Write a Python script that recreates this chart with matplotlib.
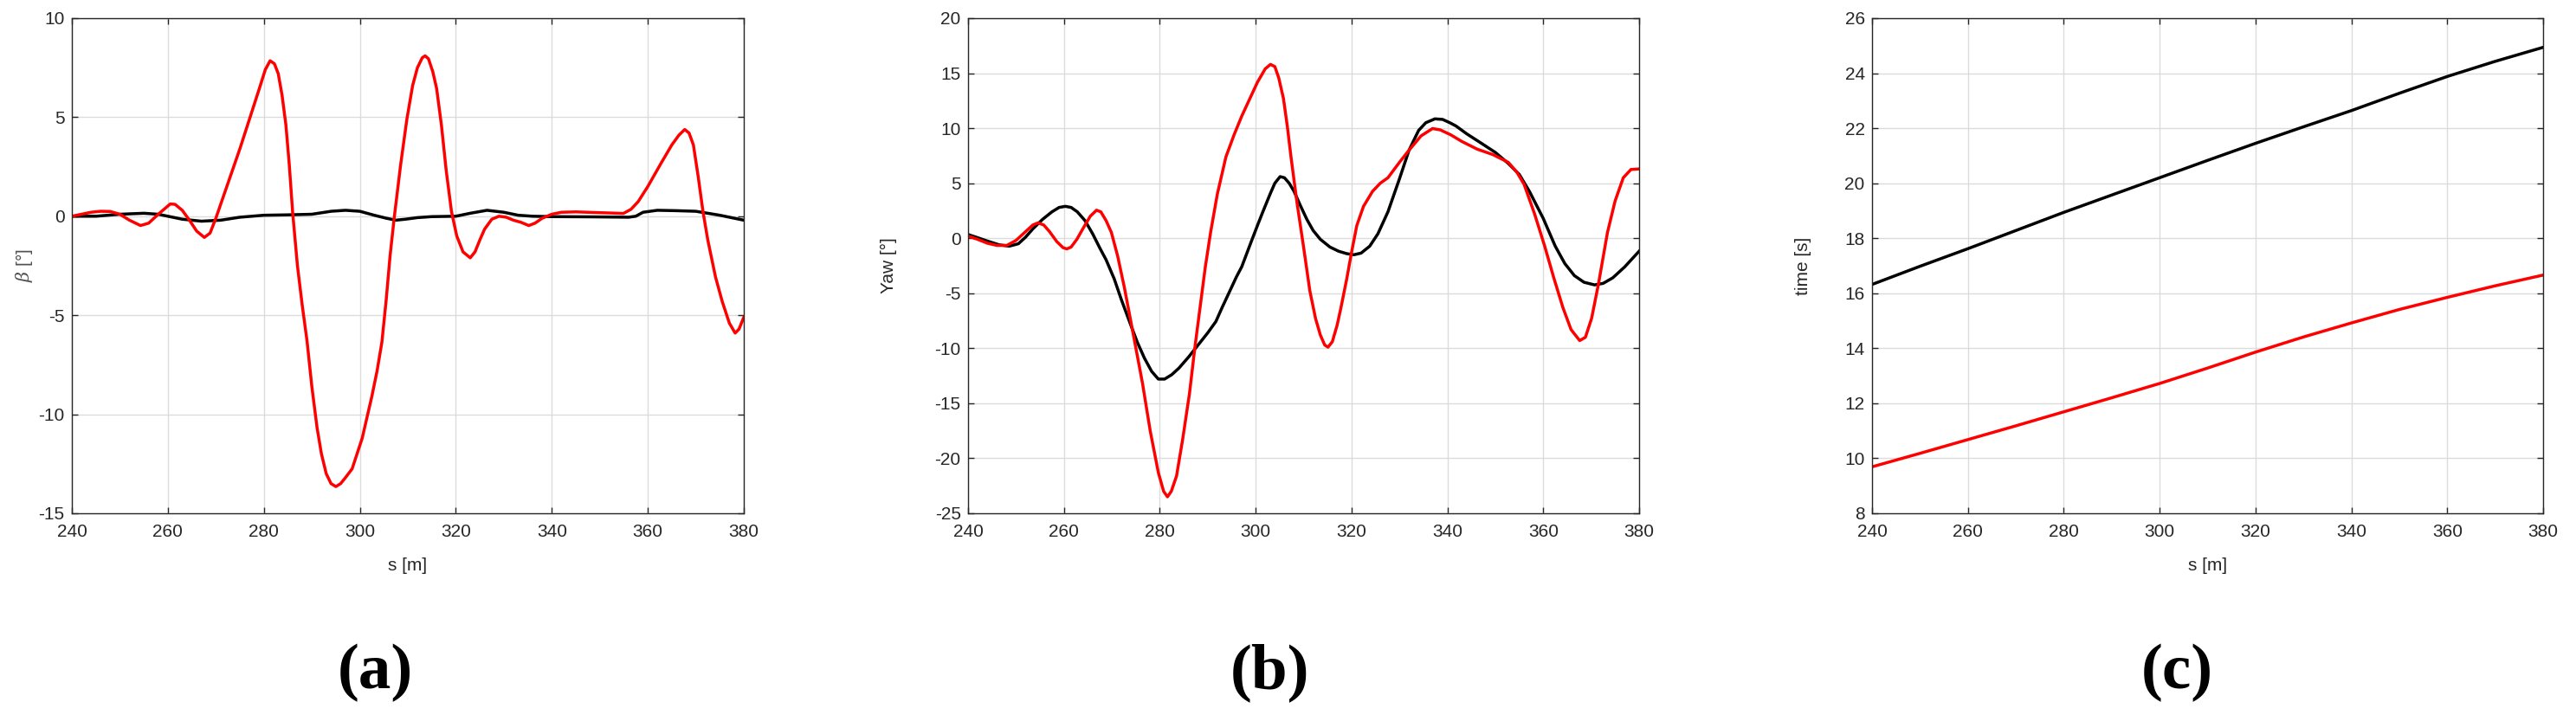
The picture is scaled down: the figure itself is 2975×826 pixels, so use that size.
import matplotlib.pyplot as plt

# panel (a): side slip angle beta [deg] vs s [m]
s_beta_red = [240, 242, 244, 246, 248, 250, 252, 254.3, 256, 258, 260.5, 261.5, 263, 264.5,
              266, 267.6, 268.8, 270, 271, 273, 275, 277, 279, 280.3, 281.3, 282.2, 283,
              283.8, 284.6, 285.3, 286, 287, 288, 289, 290, 291.1, 292, 293, 294, 295, 296,
              297, 298.4, 300.5, 302.5, 303.6, 304.6, 305.5, 306.3, 307.2, 308.5, 309.8,
              311, 312, 313, 313.6, 314.3, 315.2, 316, 317, 318, 319.1, 320.2, 321.5, 323,
              324, 325, 326, 327.5, 329, 330.5, 332, 333.5, 335.2, 336.5, 338, 340, 342,
              345, 350, 354.9, 356.5, 358, 360, 362.7, 365, 366.5, 367.7, 368.6, 369.5,
              370.5, 371.5, 372.5, 374.1, 375.5, 377, 378.2, 379, 380]
beta_red = [0.0, 0.1, 0.2, 0.25, 0.24, 0.1, -0.2, -0.47, -0.35, 0.1, 0.62, 0.6, 0.3, -0.2,
            -0.75, -1.07, -0.85, -0.1, 0.6, 2.0, 3.4, 4.9, 6.4, 7.4, 7.85, 7.7, 7.2,
            6.1, 4.6, 2.6, 0.2, -2.5, -4.5, -6.3, -8.6, -10.7, -12.0, -13.0, -13.5, -13.65, -13.5,
            -13.2, -12.75, -11.2, -9.1, -7.8, -6.35, -4.2, -2.0, 0.0, 2.6, 4.9,
            6.6, 7.5, 8.0, 8.1, 7.95, 7.3, 6.45, 4.6, 2.3, 0.23, -1.0, -1.8, -2.1,
            -1.8, -1.2, -0.65, -0.15, 0.0, -0.05, -0.2, -0.3, -0.47, -0.35, -0.1, 0.1, 0.2,
            0.22, 0.18, 0.14, 0.35, 0.74, 1.5, 2.65, 3.6, 4.1, 4.38, 4.2, 3.6,
            2.0, 0.23, -1.2, -3.06, -4.3, -5.4, -5.9, -5.7, -5.1]
s_beta_black = [240, 245, 250, 255, 258, 260, 263, 267, 271, 275, 280, 285, 290, 294, 297,
                300, 303, 305.5, 307.5, 309.5, 312, 315, 320, 323, 326.5, 330, 333, 336,
                340, 348, 356, 357.5, 359, 362, 366, 370, 375, 380]
beta_black = [0.0, 0.0, 0.1, 0.15, 0.1, 0.0, -0.15, -0.25, -0.2, -0.05, 0.05, 0.07, 0.1,
              0.25, 0.3, 0.25, 0.05, -0.1, -0.2, -0.15, -0.07, -0.02, 0.0, 0.15, 0.3, 0.2,
              0.05, 0.0, -0.02, -0.03, -0.05, 0.0, 0.2, 0.3, 0.28, 0.25, 0.05, -0.2]

# panel (b): yaw [deg] vs s [m]
s_yaw_black = [240, 242, 244, 246.5, 248.6, 250.5, 252, 253.5, 255.5, 257.5, 259, 260.3,
               261.5, 262.8, 264.4, 266, 267.5, 268.8, 270.5, 272, 273.7, 275.3, 276.8,
               278.3, 279.7, 281, 282.5, 284, 286, 288, 290, 291.7, 293, 294.5, 296, 297.1,
               299, 300.5, 301.5, 303, 304, 305.1, 306, 307, 308, 309.3, 310.7, 312, 313.5,
               315.5, 317.3, 319, 320.5, 322, 323.8, 325.5, 327.6, 330, 332, 334, 335.5,
               337.4, 339, 340.5, 341.8, 344, 347.2, 350, 352.7, 355, 357.1, 360, 362.5,
               364.5, 366.5, 368.5, 370.7, 372.5, 374.5, 377, 380]
yaw_black = [0.34, 0.05, -0.25, -0.6, -0.72, -0.5, 0.1, 0.84, 1.7, 2.4, 2.8, 2.9,
             2.8, 2.4, 1.6, 0.4, -0.9, -1.96, -3.7, -5.6, -7.6, -9.44, -10.9,
             -12.1, -12.8, -12.8, -12.4, -11.8, -10.8, -9.7, -8.6, -7.57, -6.3, -4.9, -3.5, -2.59,
             -0.4, 1.3, 2.4, 4.0, 5.0, 5.6, 5.5, 5.0, 4.27, 3.0, 1.7, 0.7, -0.1,
             -0.8, -1.18, -1.4, -1.5, -1.35, -0.72, 0.4, 2.4, 5.4, 8.0, 9.8, 10.5,
             10.85, 10.8, 10.5, 10.2, 9.5, 8.6, 7.8, 6.8, 5.8, 4.27, 1.8, -0.72,
             -2.3, -3.4, -4.0, -4.24, -4.1, -3.6, -2.6, -1.18]
s_yaw_red = [240, 242, 244, 246, 248.1, 250, 252, 253.5, 254.6, 255.8, 257, 258.5, 259.8,
             260.6, 261.5, 262.7, 264, 265.5, 266.8, 267.7, 268.8, 269.9, 271.2, 272.6,
             274.5, 276.4, 278, 279.7, 280.8, 281.6, 282.4, 283.5, 284.8, 286.2, 287.3,
             288.4, 289.5, 290.6, 292, 293.8, 295.5, 297.1, 298.8, 300.4, 302, 303.1, 304,
             304.8, 305.8, 306.6, 307.4, 308.6, 310, 311.3, 312.5, 313.5, 314.4, 315.1, 316,
             317, 317.8, 319, 320, 321.1, 322.5, 324.4, 326, 327.6, 330, 332, 334.5, 336.9,
             338.5, 340.7, 343, 346.2, 349.5, 352.7, 354.5, 356, 358.2, 360.3, 362.2, 364.1,
             365.8, 367.6, 368.8, 370.1, 371.5, 373.4, 375, 376.7, 378.3, 380]
yaw_red = [0.2, -0.1, -0.45, -0.65, -0.65, -0.2, 0.6, 1.2, 1.4, 1.2, 0.6, -0.3, -0.85,
           -0.97, -0.8, -0.1, 0.9, 2.0, 2.55, 2.4, 1.6, 0.53, -1.6, -4.45,
           -8.8, -13.2, -17.5, -21.3, -23.0, -23.5, -23.0, -21.6, -18.2, -14.1, -10.0,
           -6.3, -2.6, 0.53, 4.0, 7.4, 9.4, 11.1, 12.7, 14.2, 15.4, 15.8, 15.6,
           14.6, 12.7, 10.2, 7.3, 3.3, -0.8, -4.77, -7.3, -8.8, -9.7, -9.9, -9.4,
           -7.9, -6.3, -3.7, -1.3, 1.15, 2.9, 4.27, 5.0, 5.5, 6.9, 8.0, 9.3, 9.97,
           9.85, 9.4, 8.8, 8.1, 7.6, 6.9, 6.0, 4.9, 2.2, -0.72, -3.6, -6.3,
           -8.3, -9.3, -9.0, -7.26, -4.2, 0.53, 3.4, 5.5, 6.25, 6.3]

# panel (c): time [s] vs s [m]
s_time = [240, 250, 260, 270, 280, 290, 300, 310, 320, 330, 340, 350, 360, 370, 380]
time_black = [16.32, 16.98, 17.62, 18.28, 18.94, 19.57, 20.2, 20.83, 21.45, 22.05, 22.64,
              23.27, 23.88, 24.43, 24.94]
time_red = [9.69, 10.18, 10.68, 11.18, 11.69, 12.2, 12.72, 13.28, 13.86, 14.41, 14.92,
            15.41, 15.85, 16.27, 16.66]

x_ticks = [240, 260, 280, 300, 320, 340, 360, 380]

plt.rcParams['font.family'] = ['Liberation Sans', 'DejaVu Sans']
plt.rcParams['mathtext.fontset'] = 'dejavuserif'
plt.rcParams['axes.unicode_minus'] = False

W, H = 2975, 826
fig = plt.figure(figsize=(W / 100, H / 100), dpi=100)

FS = 15


def make_axes(left_px, width_px):
    ax = fig.add_axes([left_px / W, (H - 593) / H, width_px / W, 572 / H])
    ax.set_xlim(240, 380)
    ax.set_xticks(x_ticks)
    ax.grid(True, color='#dcdcdc', linewidth=1.0)
    ax.set_axisbelow(True)
    ax.tick_params(direction='in', top=True, right=True, length=5, width=1,
                   labelsize=FS, colors='#262626', pad=6)
    ax.tick_params(axis='x', pad=9)
    for sp in ax.spines.values():
        sp.set_linewidth(1.0)
        sp.set_color('#262626')
    return ax


ax_a = make_axes(83, 776)
ax_a.plot(s_beta_black, beta_black, color='black', linewidth=2.5, solid_joinstyle='round')
ax_a.plot(s_beta_red, beta_red, color='red', linewidth=2.5, solid_joinstyle='round')
ax_a.set_ylim(-15, 10)
ax_a.set_yticks([-15, -10, -5, 0, 5, 10])
ax_a.set_ylabel(r'$\beta$ [°]', fontsize=FS, color='#505050')
ax_a.yaxis.set_label_coords(-0.055, 0.5)
ax_a.set_xlabel('s [m]', fontsize=FS, color='#262626')
ax_a.xaxis.set_label_coords(0.5, -0.09)

ax_b = make_axes(1118, 775)
ax_b.plot(s_yaw_black, yaw_black, color='black', linewidth=2.5, solid_joinstyle='round')
ax_b.plot(s_yaw_red, yaw_red, color='red', linewidth=2.5, solid_joinstyle='round')
ax_b.set_ylim(-25, 20)
ax_b.set_yticks([-25, -20, -15, -10, -5, 0, 5, 10, 15, 20])
ax_b.set_ylabel('Yaw [°]', fontsize=FS, color='#262626')
ax_b.yaxis.set_label_coords(-0.106, 0.5)

ax_c = make_axes(2162, 775)
ax_c.plot(s_time, time_black, color='black', linewidth=2.5, solid_joinstyle='round')
ax_c.plot(s_time, time_red, color='red', linewidth=2.5, solid_joinstyle='round')
ax_c.set_ylim(8, 26)
ax_c.set_yticks([8, 10, 12, 14, 16, 18, 20, 22, 24, 26])
ax_c.set_ylabel('time [s]', fontsize=FS, color='#262626')
ax_c.yaxis.set_label_coords(-0.090, 0.5)
ax_c.set_xlabel('s [m]', fontsize=FS, color='#262626')
ax_c.xaxis.set_label_coords(0.5, -0.09)

for x_px, lab in [(433, '(a)'), (1467, '(b)'), (2514, '(c)')]:
    fig.text(x_px / W, 1 - 777 / H, lab, ha='center', va='center',
             fontsize=54, fontweight='bold', family='Liberation Serif')

fig.savefig('out.png', dpi=100)
